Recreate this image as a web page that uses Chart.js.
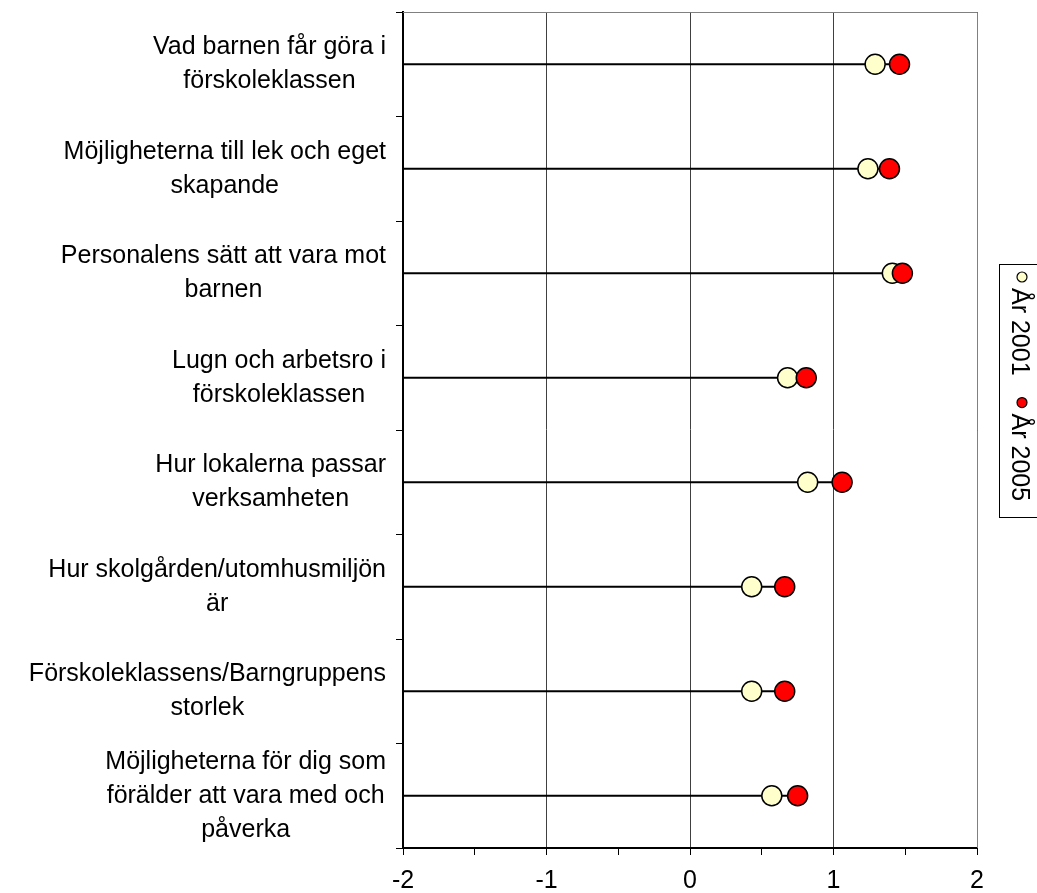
<!DOCTYPE html>
<html>
<head>
<meta charset="utf-8">
<script src="https://cdn.jsdelivr.net/npm/chart.js@4/dist/chart.umd.min.js"></script>
<style>
  html, body { margin: 0; padding: 0; background: #fff; }
  #wrap { width: 1037px; height: 893px; }
</style>
</head>
<body>
<div id="wrap"><canvas id="mainchart"></canvas></div>
<script>
// categories (multi-line labels as shown)
var categories = [
  ['Vad barnen får göra i', 'förskoleklassen'],
  ['Möjligheterna till lek och eget', 'skapande'],
  ['Personalens sätt att vara mot', 'barnen'],
  ['Lugn och arbetsro i', 'förskoleklassen'],
  ['Hur lokalerna passar', 'verksamheten'],
  ['Hur skolgården/utomhusmiljön', 'är'],
  ['Förskoleklassens/Barngruppens', 'storlek'],
  ['Möjligheterna för dig som', 'förälder att vara med och', 'påverka']
];
var seriesNames = ['År 2001', 'År 2005'];
var values2001 = [1.29, 1.24, 1.41, 0.68, 0.82, 0.43, 0.43, 0.57];
var values2005 = [1.46, 1.39, 1.48, 0.81, 1.06, 0.66, 0.66, 0.75];
var xTicks = [-2, -1, 0, 1, 2];

var axisMin = xTicks[0];
var axisMax = xTicks[xTicks.length - 1];

// stems from the left edge to the largest value of each row
var stems = values2001.map(function (v, i) {
  return [axisMin, Math.max(v, values2005[i])];
});

var fontFamily = '"Liberation Sans", Arial, sans-serif';

// frame on top and right of the plot
var framePlugin = {
  id: 'frame',
  beforeDatasetsDraw: function (chart) {
    var a = chart.chartArea, ctx = chart.ctx;
    ctx.save();
    ctx.strokeStyle = '#808080';
    ctx.lineWidth = 1;
    ctx.beginPath();
    ctx.moveTo(a.left, a.top + 0.5);
    ctx.lineTo(a.right + 0.5, a.top + 0.5);
    ctx.lineTo(a.right + 0.5, a.bottom);
    ctx.stroke();
    ctx.restore();
  }
};

// category labels: block right aligned, lines centred inside the block
var catLabelPlugin = {
  id: 'catlabels',
  afterDraw: function (chart) {
    var ctx = chart.ctx, ys = chart.scales.y;
    var lineH = 34, rightEdge = 386;
    ctx.save();
    ctx.font = '25px ' + fontFamily;
    ctx.fillStyle = '#000';
    ctx.textAlign = 'center';
    ctx.textBaseline = 'middle';
    chart.data.labels.forEach(function (lines, i) {
      var widest = 0;
      lines.forEach(function (l) { widest = Math.max(widest, ctx.measureText(l).width); });
      var cx = rightEdge - widest / 2;
      var cy = ys.getPixelForValue(i);
      var y0 = cy - (lines.length - 1) * lineH / 2;
      lines.forEach(function (l, k) { ctx.fillText(l, cx, y0 + k * lineH); });
    });
    ctx.restore();
  }
};

// vertical legend box on the right
var legendPlugin = {
  id: 'vlegend',
  afterDraw: function (chart) {
    var ctx = chart.ctx;
    ctx.save();
    ctx.strokeStyle = '#000';
    ctx.lineWidth = 1;
    ctx.strokeRect(999.5, 264.5, 60, 253);
    ctx.translate(1020, 0);
    ctx.rotate(Math.PI / 2);
    ctx.font = '25px ' + fontFamily;
    ctx.textBaseline = 'middle';
    var pos = 277;
    var items = [chart.data.datasets[1], chart.data.datasets[0]];
    items.forEach(function (ds) {
      ctx.beginPath();
      ctx.arc(pos, -2, 5, 0, Math.PI * 2);
      ctx.fillStyle = ds.backgroundColor;
      ctx.fill();
      ctx.lineWidth = 1.2;
      ctx.strokeStyle = '#000';
      ctx.stroke();
      ctx.fillStyle = '#000';
      ctx.fillText(ds.label, pos + 11, 1);
      pos += 11 + ctx.measureText(ds.label).width + 27;
    });
    ctx.restore();
  }
};

new Chart('mainchart', {
  type: 'bar',
  data: {
    labels: categories,
    datasets: [
      {
        type: 'line',
        label: seriesNames[1],
        data: values2005,
        showLine: false,
        pointRadius: 10,
        pointBackgroundColor: '#FF0000',
        backgroundColor: '#FF0000',
        pointBorderColor: '#000',
        pointBorderWidth: 1.5,
        order: 0
      },
      {
        type: 'line',
        label: seriesNames[0],
        data: values2001,
        showLine: false,
        pointRadius: 10,
        pointBackgroundColor: '#FFFFCC',
        backgroundColor: '#FFFFCC',
        pointBorderColor: '#000',
        pointBorderWidth: 1.5,
        order: 1
      },
      {
        type: 'bar',
        label: 'stem',
        data: stems,
        backgroundColor: '#000',
        borderWidth: 0,
        barThickness: 1.5,
        order: 2
      }
    ]
  },
  options: {
    indexAxis: 'y',
    responsive: true,
    maintainAspectRatio: false,
    animation: false,
    layout: { padding: { left: 0, right: 60, top: 12, bottom: 0 } },
    plugins: {
      legend: { display: false },
      tooltip: { enabled: false }
    },
    scales: {
      x: {
        type: 'linear',
        min: axisMin,
        max: axisMax,
        ticks: {
          stepSize: 0.5,
          color: '#000',
          font: { family: fontFamily, size: 25, lineHeight: 1 },
          maxRotation: 0,
          padding: 14,
          callback: function (v) { return Number.isInteger(v) ? String(v) : ''; }
        },
        grid: {
          color: function (c) {
            return c.tick && Number.isInteger(c.tick.value) ? '#404040' : 'rgba(0,0,0,0)';
          },
          tickColor: '#000',
          tickLength: 7,
          lineWidth: 1
        },
        border: { color: '#000', width: 2 },
        afterFit: function (scale) {
          scale.height = 45;
          scale.paddingLeft = 0;
          scale.paddingRight = 0;
        }
      },
      y: {
        type: 'category',
        offset: true,
        ticks: { display: false },
        grid: {
          offset: true,
          drawOnChartArea: false,
          tickColor: '#000',
          tickLength: 7
        },
        border: { color: '#000', width: 2 },
        afterFit: function (scale) {
          scale.width = 403;
          scale.paddingTop = 0;
          scale.paddingBottom = 0;
        }
      }
    }
  },
  plugins: [framePlugin, catLabelPlugin, legendPlugin]
});
</script>
</body>
</html>
